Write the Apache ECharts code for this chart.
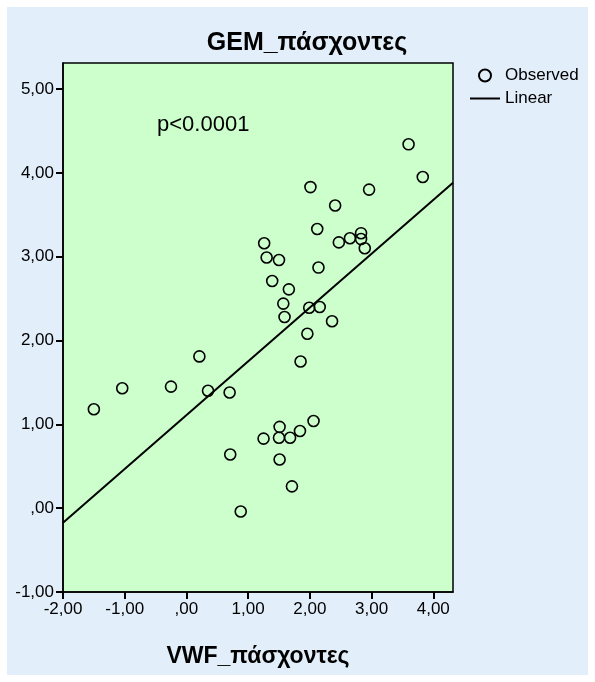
<!DOCTYPE html>
<html>
<head>
<meta charset="utf-8">
<script src="https://cdn.jsdelivr.net/npm/echarts@6/dist/echarts.min.js"></script>
<style>
html,body{margin:0;padding:0;background:#ffffff;}
#frame{position:absolute;left:7px;top:7px;width:581px;height:668px;background:#E2EEF9;}
#chart{position:absolute;left:0;top:0;width:595px;height:682px;}
</style>
</head>
<body>
<div id="frame"></div>
<div id="chart"></div>
<script>
// Data
const vwf = [3.60, 3.83, 2.01, 2.96, 2.41, 2.12, 1.26, 2.83, 2.65, 2.83, 2.47, 2.89, 1.30, 1.50, 2.14, 1.39, 1.66, 1.57, 1.99, 2.16,
             1.59, 2.36, 1.96, 1.85, 0.21, -1.04, -0.25, 0.35, 0.70, -1.50, 0.71, 0.88, 2.06, 1.51, 1.84, 1.25, 1.50, 1.68, 1.51, 1.71];
const gem = [4.34, 3.95, 3.83, 3.80, 3.61, 3.33, 3.16, 3.28, 3.22, 3.21, 3.17, 3.10, 2.99, 2.96, 2.87, 2.71, 2.61, 2.44, 2.39, 2.40,
             2.28, 2.23, 2.08, 1.75, 1.81, 1.43, 1.45, 1.40, 1.38, 1.18, 0.64, -0.04, 1.04, 0.97, 0.92, 0.83, 0.84, 0.84, 0.58, 0.26];
const fitX = [-2.0, 4.32];
const fitY = [-0.174, 3.883];
const xTicks = [-2, -1, 0, 1, 2, 3, 4];
const yTicks = [-1, 0, 1, 2, 3, 4, 5];
const titleText = 'GEM_πάσχοντες';
const xTitle = 'VWF_πάσχοντες';
const pText = 'p<0.0001';

function fmt(v){
  let s = Math.abs(v).toFixed(2).replace('.', ',');
  if (s.startsWith('0,')) s = s.slice(1);
  return (v < 0 ? '-' : '') + s;
}

const FONT = '"Liberation Sans", Arial, sans-serif';
const chart = echarts.init(document.getElementById('chart'), null, {renderer:'canvas'});
chart.setOption({
  backgroundColor: 'transparent',
  animation: false,
  textStyle: {fontFamily: FONT, color: '#000'},
  title: {
    text: titleText, left: 307, top: 31, textAlign: 'center', padding: 0,
    textStyle: {fontFamily: FONT, fontWeight: 'bold', fontSize: 25, color: '#000'}
  },
  legend: {
    orient: 'vertical', left: 470, top: 67, padding: 0, itemWidth: 30, itemHeight: 12, itemGap: 6,
    textStyle: {fontFamily: FONT, fontSize: 17, color: '#000'},
    data: [
      {name: 'Observed'},
      {name: 'Linear', icon: 'path://M0,0H30V2H0Z'}
    ]
  },
  grid: {
    left: 63, top: 63, right: 142, bottom: 90, show: true,
    backgroundColor: '#CCFFCC', borderColor: '#000', borderWidth: 1.5
  },
  xAxis: {
    type: 'value', min: -2, max: 4.32,
    name: xTitle, nameLocation: 'middle', nameGap: 53,
    nameTextStyle: {fontFamily: FONT, fontWeight: 'bold', fontSize: 23, color: '#000'},
    splitLine: {show: false},
    axisLine: {show: true, onZero: false, lineStyle: {color: '#000', width: 1.5}},
    axisTick: {show: true, length: 7, lineStyle: {color: '#000', width: 2}, customValues: xTicks},
    axisLabel: {fontFamily: FONT, fontSize: 17, color: '#000', margin: 9, customValues: xTicks, formatter: fmt}
  },
  yAxis: {
    type: 'value', min: -1, max: 5.31,
    splitLine: {show: false},
    axisLine: {show: true, onZero: false, lineStyle: {color: '#000', width: 1.5}},
    axisTick: {show: true, length: 7, lineStyle: {color: '#000', width: 2}, customValues: yTicks},
    axisLabel: {fontFamily: FONT, fontSize: 17, color: '#000', margin: 9, customValues: yTicks, formatter: fmt}
  },
  graphic: [{
    type: 'text', left: 157, top: 114, z: 100,
    style: {text: pText, fontFamily: FONT, fontSize: 22, fill: '#000'}
  }],
  series: [
    {
      name: 'Observed', type: 'scatter', symbol: 'circle', symbolSize: 11,
      itemStyle: {color: 'rgba(0,0,0,0)', borderColor: '#000', borderWidth: 1.6, opacity: 1},
      data: vwf.map((x, i) => [x, gem[i]]), z: 3
    },
    {
      name: 'Linear', type: 'line', symbol: 'none', clip: true,
      lineStyle: {color: '#000', width: 2},
      itemStyle: {color: '#000'},
      data: fitX.map((x, i) => [x, fitY[i]]), z: 2
    }
  ]
});
</script>
</body>
</html>
